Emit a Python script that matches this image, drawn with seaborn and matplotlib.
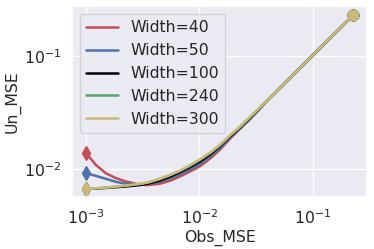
import matplotlib
matplotlib.use("Agg")
import matplotlib.pyplot as plt
import seaborn as sns
import pandas as pd

obs_mse = [0.001, 0.00123, 0.0015, 0.00185, 0.00226, 0.0030, 0.0035, 0.0045, 0.0056, 0.0068,
           0.0083, 0.0102, 0.0125, 0.0152, 0.0187, 0.023, 0.028, 0.034, 0.039, 0.228]

un_w40 = [0.0140, 0.0109, 0.0092, 0.0083, 0.00776, 0.00726, 0.0072, 0.0074, 0.0079, 0.0086,
          0.0095, 0.0106, 0.0124, 0.0148, 0.0186, 0.0228, 0.0276, 0.0340, 0.0398, 0.233]
un_w50 = [0.0092, 0.0087, 0.0082, 0.0077, 0.0074, 0.0073, 0.0074, 0.0077, 0.0083, 0.0090,
          0.0099, 0.0111, 0.0129, 0.0153, 0.0190, 0.0232, 0.0280, 0.0343, 0.0399, 0.233]
un_w100 = [0.00668, 0.0067, 0.0068, 0.0069, 0.0070, 0.0072, 0.0074, 0.0079, 0.0086, 0.0094,
           0.0104, 0.0117, 0.0135, 0.0159, 0.0195, 0.0236, 0.0285, 0.0346, 0.0399, 0.233]
un_w240 = [0.00668, 0.00673, 0.00682, 0.00697, 0.0071, 0.00736, 0.00756, 0.00815, 0.00885, 0.00965,
           0.0107, 0.0121, 0.0139, 0.0162, 0.0198, 0.0238, 0.0288, 0.0348, 0.0400, 0.233]
un_w300 = [0.00668, 0.00675, 0.00685, 0.0070, 0.00715, 0.0074, 0.0076, 0.0082, 0.0089, 0.0097,
           0.0108, 0.0122, 0.0140, 0.0164, 0.0200, 0.0240, 0.0290, 0.0350, 0.0400, 0.233]

labels = ["Width=40", "Width=50", "Width=100", "Width=240", "Width=300"]
series = [un_w40, un_w50, un_w100, un_w240, un_w300]
colors = ["#C44E52", "#4C72B0", "#000000", "#55A868", "#CCB974"]

sns.set_theme(style="darkgrid")
fs = 11.3
plt.rcParams["font.family"] = ["DejaVu Sans"]

fig = plt.figure(figsize=(3.74, 2.49), dpi=100)
ax = fig.add_axes([0.1925, 0.208, 0.7895, 0.767])

rows = []
for lab, ys in zip(labels, series):
    for x, y in zip(obs_mse, ys):
        rows.append({"Obs_MSE": x, "Un_MSE": y, "Model": lab})
df = pd.DataFrame(rows)

for lab, col in zip(labels, colors):
    sub = df[df["Model"] == lab]
    sns.lineplot(data=sub, x="Obs_MSE", y="Un_MSE", color=col, lw=1.8, ax=ax, label=lab, sort=False)
    ax.plot(sub["Obs_MSE"].iloc[[0]], sub["Un_MSE"].iloc[[0]], marker="d", ms=6.8, color=col, ls="none")
    ax.plot(sub["Obs_MSE"].iloc[[-1]], sub["Un_MSE"].iloc[[-1]], marker="o", ms=7.5, color=col, ls="none")

ax.set_xscale("log")
ax.set_yscale("log")
ax.set_xlim(10 ** -3.12, 10 ** -0.52)
ax.set_ylim(10 ** -2.25, 10 ** -0.555)
ax.set_xlabel("Obs_MSE", fontsize=fs, labelpad=2)
ax.set_ylabel("Un_MSE", fontsize=fs, labelpad=2)
ax.tick_params(axis="both", which="major", labelsize=fs, pad=2)
ax.tick_params(axis="both", which="minor", length=0)
ax.grid(False, which="minor")
ax.legend(loc="upper left", fontsize=fs, frameon=True)

fig.savefig("out.png", dpi=100)
